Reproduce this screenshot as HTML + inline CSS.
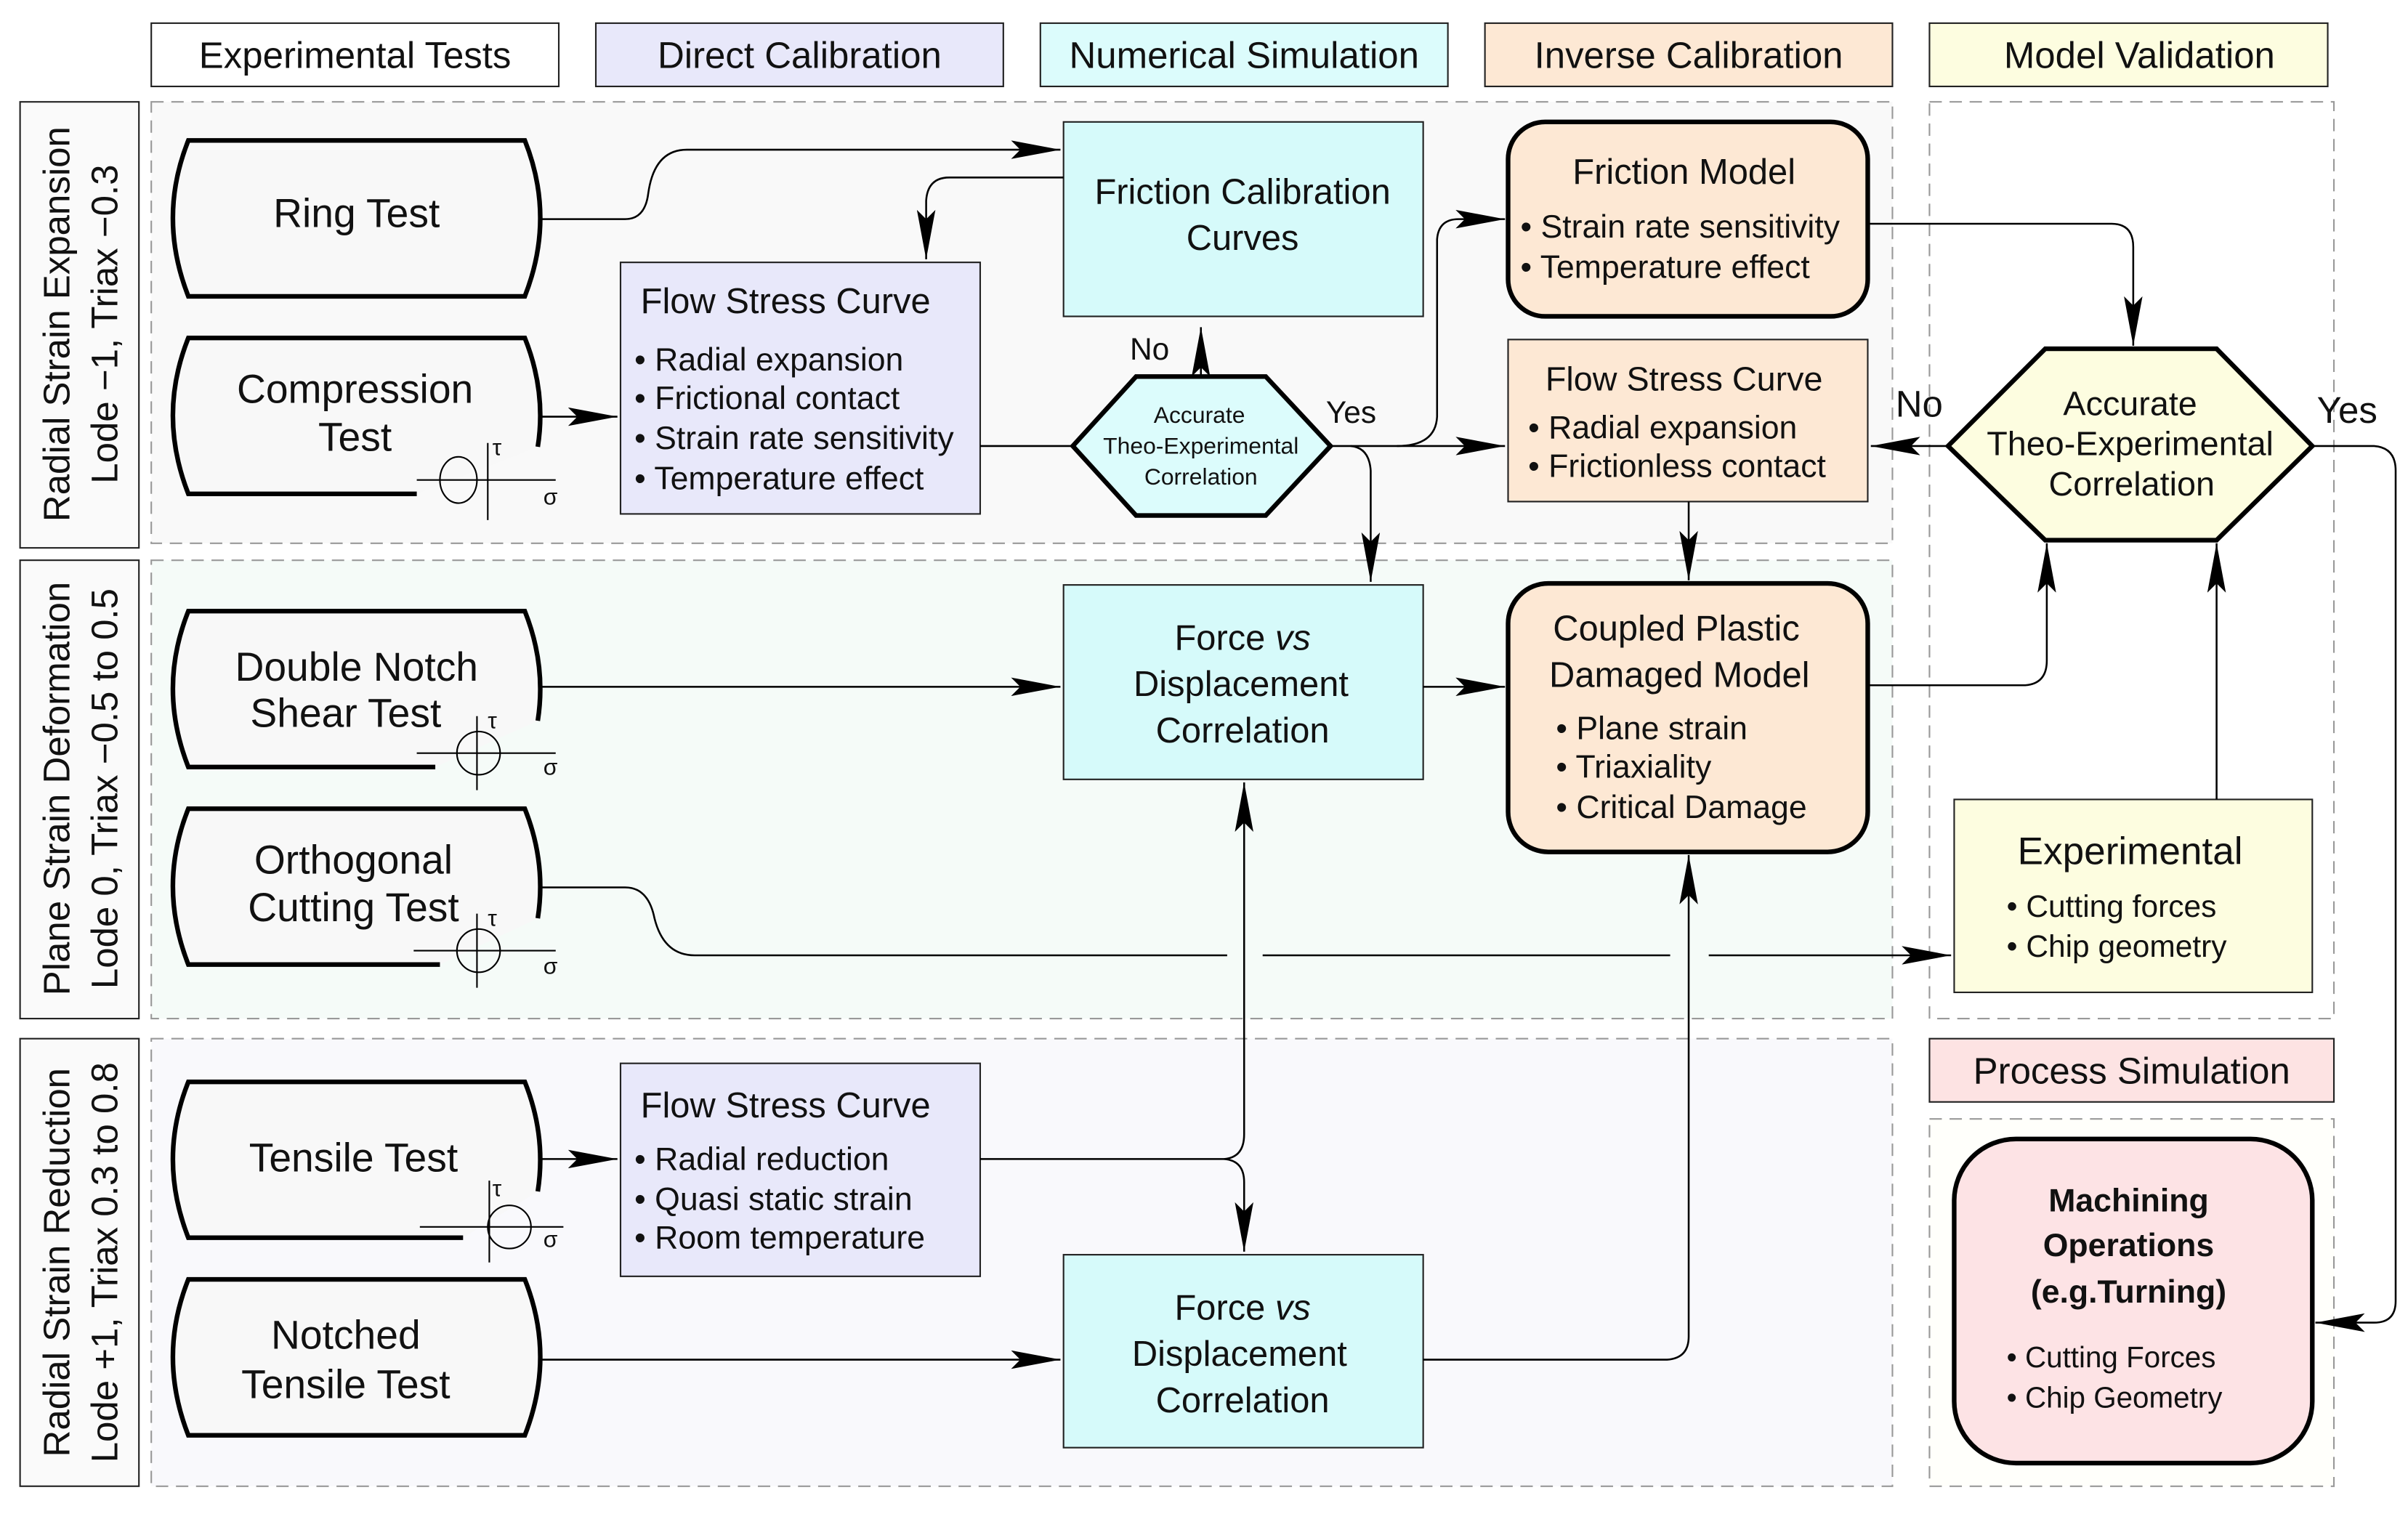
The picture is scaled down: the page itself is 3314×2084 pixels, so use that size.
<!DOCTYPE html>
<html><head><meta charset="utf-8"><style>
html,body{margin:0;padding:0;background:#fff;}
svg{display:block;}
text{font-family:"Liberation Sans",Arial,sans-serif;fill:#111;}
.n{font-family:"Liberation Sans Narrow","Liberation Sans",Arial,sans-serif;}
</style></head><body>
<svg width="3314" height="2084" viewBox="0 0 1560 981" xmlns="http://www.w3.org/2000/svg">
<defs>
<marker id="a" viewBox="0 0 32 12" refX="32" refY="6" markerWidth="32" markerHeight="12" markerUnits="userSpaceOnUse" orient="auto">
<path d="M0,0 L32,6 L0,12 L6,6 Z" fill="#000"/>
</marker>
</defs>
<rect width="1560" height="981" fill="#fff"/>

<!-- headers -->
<g stroke="#222" stroke-width="1">
<rect x="98" y="15" width="264" height="41" fill="#fff"/>
<rect x="386" y="15" width="264" height="41" fill="#e8e8fa"/>
<rect x="674" y="15" width="264" height="41" fill="#dcfcfc"/>
<rect x="962" y="15" width="264" height="41" fill="#fde8d4"/>
<rect x="1250" y="15" width="258" height="41" fill="#fdfde0"/>
<rect x="1250" y="673" width="262" height="41" fill="#fde3e3"/>
</g>
<g font-size="24" text-anchor="middle">
<text x="230" y="44">Experimental Tests</text>
<text x="518" y="44">Direct Calibration</text>
<text x="806" y="44">Numerical Simulation</text>
<text x="1094" y="44">Inverse Calibration</text>
<text x="1386" y="44">Model Validation</text>
<text x="1381" y="702">Process Simulation</text>
</g>

<!-- row label boxes -->
<g stroke="#222" stroke-width="1" fill="#fafafa">
<rect x="13" y="66" width="77" height="289"/>
<rect x="13" y="363" width="77" height="297"/>
<rect x="13" y="673" width="77" height="290"/>
</g>
<g font-size="24" text-anchor="middle">
<text transform="translate(45,210) rotate(-90)">Radial Strain Expansion</text>
<text transform="translate(76,210) rotate(-90)">Lode −1, Triax −0.3</text>
<text transform="translate(45,511) rotate(-90)">Plane Strain Deformation</text>
<text transform="translate(76,511) rotate(-90)">Lode 0, Triax −0.5 to 0.5</text>
<text transform="translate(45,818) rotate(-90)">Radial Strain Reduction</text>
<text transform="translate(76,818) rotate(-90)">Lode +1, Triax 0.3 to 0.8</text>
</g>

<!-- dashed regions -->
<g stroke="#999" stroke-width="1" stroke-dasharray="8,5">
<rect x="98" y="66" width="1128" height="286" fill="#f9f9f9"/>
<rect x="98" y="363" width="1128" height="297" fill="#f5fbf8"/>
<rect x="98" y="673" width="1128" height="290" fill="#f9f9fc"/>
<rect x="1250" y="66" width="262" height="594" fill="#fff"/>
<rect x="1250" y="725" width="262" height="238" fill="#fffffb"/>
</g>

<!-- test barrels -->
<g fill="#f8f8f8" stroke="#000" stroke-width="3">
<path d="M122,91 L340,91 Q360,141 340,192 L122,192 Q102,141 122,91 Z"/>
<path d="M122,829 L340,829 Q360,879 340,930 L122,930 Q102,879 122,829 Z"/>
<path d="M270,320 L122,320 Q102,269 122,219 L340,219 Q354,254 348.4,289.5"/>
<path d="M282,497 L122,497 Q102,446 122,396 L340,396 Q354,431 348.4,467"/>
<path d="M285,625 L122,625 Q102,574 122,524 L340,524 Q354,559 348.4,595"/>
<path d="M300,802 L122,802 Q102,751 122,701 L340,701 Q354,736 348.4,772"/>
</g>
<!-- stress icons -->
<g fill="none" stroke="#000" stroke-width="1">
<ellipse cx="297" cy="311" rx="12" ry="15"/><line x1="270" y1="311" x2="360" y2="311"/><line x1="316" y1="287" x2="316" y2="337"/>
<ellipse cx="310" cy="488" rx="14" ry="14"/><line x1="270" y1="488" x2="360" y2="488"/><line x1="309" y1="464" x2="309" y2="512"/>
<ellipse cx="310" cy="616" rx="14" ry="14"/><line x1="268" y1="616" x2="360" y2="616"/><line x1="309" y1="592" x2="309" y2="640"/>
<ellipse cx="330" cy="795" rx="14" ry="14"/><line x1="272" y1="795" x2="365" y2="795"/><line x1="317" y1="765" x2="317" y2="818"/>
</g>
<g font-size="15">
<text x="319" y="295">τ</text><text x="352" y="327">σ</text>
<text x="316" y="472">τ</text><text x="352" y="502">σ</text>
<text x="316" y="600">τ</text><text x="352" y="631">σ</text>
<text x="319" y="775">τ</text><text x="352" y="808">σ</text>
</g>
<g font-size="26" text-anchor="middle" class="n">
<text x="231" y="147">Ring Test</text>
<text x="230" y="261">Compression</text><text x="230" y="292">Test</text>
<text x="231" y="441">Double Notch</text><text x="224" y="471">Shear Test</text>
<text x="229" y="566">Orthogonal</text><text x="229" y="597">Cutting Test</text>
<text x="229" y="759">Tensile Test</text>
<text x="224" y="874">Notched</text><text x="224" y="906">Tensile Test</text>
</g>

<!-- boxes -->
<g stroke="#222" stroke-width="1">
<rect x="689" y="79" width="233" height="126" fill="#d6fafa"/>
<rect x="402" y="170" width="233" height="163" fill="#e8e8fa"/>
<rect x="977" y="220" width="233" height="105" fill="#fde8d4"/>
<rect x="689" y="379" width="233" height="126" fill="#d6fafa"/>
<rect x="689" y="813" width="233" height="125" fill="#d6fafa"/>
<rect x="402" y="689" width="233" height="138" fill="#e8e8fa"/>
<rect x="1266" y="518" width="232" height="125" fill="#fdfde0"/>
</g>
<g stroke="#000" stroke-width="3">
<rect x="977" y="79" width="233" height="126" rx="24" fill="#fde8d4"/>
<rect x="977" y="378" width="233" height="174" rx="26" fill="#fde8d4"/>
<rect x="1266" y="738" width="232" height="210" rx="40" fill="#fde3e5"/>
<polygon points="695,289 736,244 820,244 862,289 820,334 736,334" fill="#dcfcfc"/>
<polygon points="1262,289 1325,226 1436,226 1498,289 1436,350 1325,350" fill="#fdfde0"/>
</g>

<g class="n" text-anchor="middle" font-size="23">
<text x="805" y="132">Friction Calibration</text><text x="805" y="162">Curves</text>
<text x="1091" y="119">Friction Model</text>
<text x="1091" y="253" font-size="22">Flow Stress Curve</text>
<text x="1086" y="415">Coupled Plastic</text><text x="1088" y="445">Damaged Model</text>
<text x="805" y="421">Force <tspan font-style="italic">vs</tspan></text><text x="804" y="451">Displacement</text><text x="805" y="481">Correlation</text>
<text x="805" y="855">Force <tspan font-style="italic">vs</tspan></text><text x="803" y="885">Displacement</text><text x="805" y="915">Correlation</text>
<text x="1380" y="560" font-size="25">Experimental</text>
<text x="1380" y="269" font-size="22">Accurate</text><text x="1380" y="295" font-size="22">Theo-Experimental</text><text x="1381" y="321" font-size="22">Correlation</text>
</g>
<g text-anchor="middle" font-size="15">
<text x="777" y="274">Accurate</text><text x="778" y="294">Theo-Experimental</text><text x="778" y="314">Correlation</text>
</g>
<g text-anchor="middle" font-size="21" font-weight="bold">
<text x="1379" y="785">Machining</text><text x="1379" y="814">Operations</text><text x="1379" y="844">(e.g.Turning)</text>
</g>
<g font-size="21" class="n">
<text x="415" y="203" font-size="23">Flow Stress Curve</text>
<text x="411" y="240">• Radial expansion</text>
<text x="411" y="265">• Frictional contact</text>
<text x="411" y="291">• Strain rate sensitivity</text>
<text x="411" y="317">• Temperature effect</text>
<text x="415" y="724" font-size="23">Flow Stress Curve</text>
<text x="411" y="758">• Radial reduction</text>
<text x="411" y="784">• Quasi static strain</text>
<text x="411" y="809">• Room temperature</text>
<text x="985" y="154">• Strain rate sensitivity</text>
<text x="985" y="180">• Temperature effect</text>
<text x="990" y="284">• Radial expansion</text>
<text x="990" y="309">• Frictionless contact</text>
<text x="1008" y="479">• Plane strain</text>
<text x="1008" y="504">• Triaxiality</text>
<text x="1008" y="530">• Critical Damage</text>
<text x="1300" y="594" font-size="20">• Cutting forces</text>
<text x="1300" y="620" font-size="20">• Chip geometry</text>
</g>
<g font-size="19">
<text x="1300" y="886">• Cutting Forces</text>
<text x="1300" y="912">• Chip Geometry</text>
</g>
<g font-size="20">
<text x="732" y="233">No</text><text x="859" y="274">Yes</text>
<text x="1228" y="270" font-size="24">No</text><text x="1501" y="274" font-size="24">Yes</text>
</g>

<!-- connectors -->
<g fill="none" stroke="#000" stroke-width="1.2" marker-end="url(#a)">
<path d="M349,142 L405,142 Q418,142 420,125 Q424,97 445,97 L687,97"/>
<path d="M689,115 L615,115 Q601,115 600,130 L600,168"/>
<path d="M350,270 L400,270"/>
<path d="M635,289 L695,289" marker-end="none"/>
<path d="M778,244 L778,212"/>
<path d="M862,289 L975,289"/>
<path d="M905,289 Q930,289 931,270 L931,155 Q932,142 945,142 L975,142"/>
<path d="M875,289 Q887,290 888,305 L888,377"/>
<path d="M1210,145 L1368,145 Q1382,145 1382,160 L1382,224"/>
<path d="M1262,289 L1212,289"/>
<path d="M1498,289 L1538,289 Q1552,290 1552,305 L1552,843 Q1552,857 1538,857 L1500,857"/>
<path d="M1094,325 L1094,376"/>
<path d="M922,445 L975,445"/>
<path d="M350,445 L687,445"/>
<path d="M1210,444 L1312,444 Q1326,443 1326,428 L1326,352"/>
<path d="M1436,518 L1436,352"/>
<path d="M350,575 L405,575 Q420,575 424,595 Q430,619 450,619 L795,619 M818,619 L1082,619 M1107,619 L1264,619"/>
<path d="M635,751 L793,751 Q806,750 806,735 L806,507"/>
<path d="M793,751 Q806,752 806,766 L806,811"/>
<path d="M350,751 L400,751"/>
<path d="M350,881 L687,881"/>
<path d="M922,881 L1080,881 Q1094,880 1094,866 L1094,554"/>
</g>
</svg>
</body></html>
